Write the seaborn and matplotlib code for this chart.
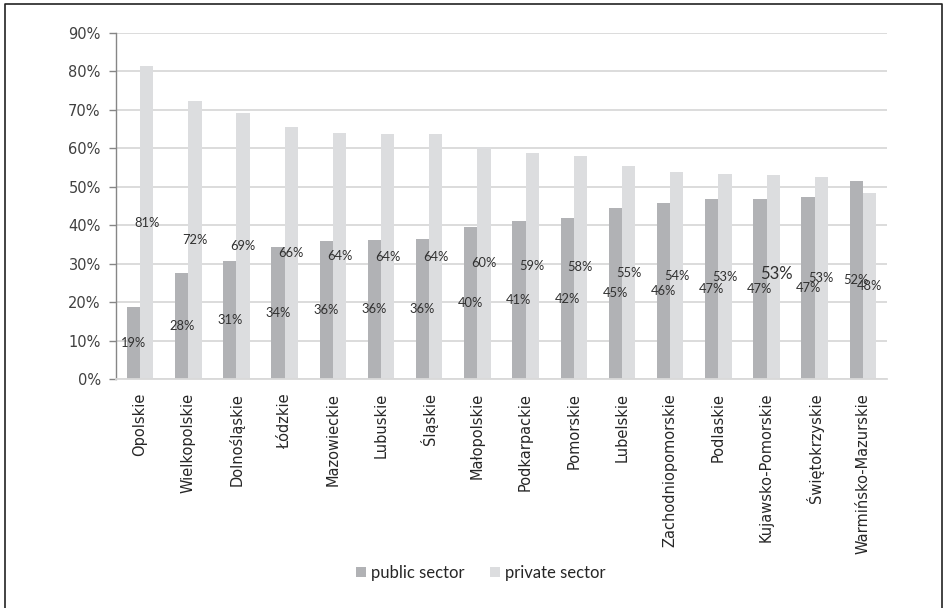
import matplotlib
matplotlib.use("Agg")
import matplotlib.pyplot as plt
import seaborn as sns
import pandas as pd
from matplotlib.lines import Line2D
from matplotlib.patches import Patch

regions = ["Opolskie", "Wielkopolskie", "Dolnośląskie", "Łódzkie", "Mazowieckie",
           "Lubuskie", "Śląskie", "Małopolskie", "Podkarpackie", "Pomorskie",
           "Lubelskie", "Zachodniopomorskie", "Podlaskie", "Kujawsko-Pomorskie",
           "Świętokrzyskie", "Warmińsko-Mazurskie"]
public = [18.6, 27.6, 30.6, 34.4, 35.9, 36.2, 36.3, 39.6, 41.1, 41.8,
          44.6, 45.9, 46.7, 46.9, 47.4, 51.6]
private = [81.3, 72.4, 69.3, 65.6, 64.1, 63.7, 63.6, 60.4, 58.8, 58.1,
           55.4, 53.8, 53.3, 53.0, 52.6, 48.4]
series = ["public sector", "private sector"]
colors = ["#b1b2b5", "#dcdddf"]
yticks = [0, 10, 20, 30, 40, 50, 60, 70, 80, 90]

df = pd.DataFrame({
    "region": regions * 2,
    "value": public + private,
    "sector": [series[0]] * len(regions) + [series[1]] * len(regions),
})

sns.set_theme(style="white")
plt.rcParams["font.family"] = ["DejaVu Sans"]

fig = plt.figure(figsize=(9.45, 6.08), dpi=100)
ax = fig.add_axes([116 / 945, 1 - 379 / 608, (887 - 116) / 945, (379 - 33) / 608])

sns.barplot(data=df, x="region", y="value", hue="sector", palette=colors,
            width=0.55, ax=ax, legend=False, saturation=1, edgecolor="none")

ax.set_ylim(0, 90)
ax.set_xlim(-0.5, len(regions) - 0.5)
ax.set_yticks(yticks)
ax.set_yticklabels([f"{t}%" for t in yticks], fontsize=10.5, color="#404040")
ax.set_xticks(range(len(regions)))
ax.set_xticklabels(regions, rotation=90, fontsize=10.5, color="#262626")
ax.set_xlabel("")
ax.set_ylabel("")

ax.yaxis.grid(True, color="#d9d9d9", linewidth=1.3)
ax.set_axisbelow(True)
for s in ["top", "right"]:
    ax.spines[s].set_visible(False)
ax.spines["bottom"].set_color("#d9d9d9")
ax.spines["bottom"].set_linewidth(1.3)
ax.spines["left"].set_color("#868686")
ax.spines["left"].set_linewidth(1.0)
ax.tick_params(axis="y", which="major", left=True, length=5, width=1.0,
               color="#868686", pad=6)
ax.tick_params(axis="x", which="major", bottom=False, pad=4)

for ci, cont in enumerate(ax.containers):
    texts = ax.bar_label(cont, labels=[f"{v:.0f}%" for v in cont.datavalues],
                         label_type="center", fontsize=9.3, color="#303030",
                         family=["Lato", "DejaVu Sans"])
    if ci == 1:
        texts[13].set_fontsize(12)
        texts[13].xyann = (2, 2)

handles = [Patch(facecolor=c, edgecolor="none") for c in colors]
fig.legend(handles, series, loc="center", bbox_to_anchor=(481 / 945, 1 - 573 / 608),
           ncol=2, frameon=False, handlelength=0.6, handleheight=0.6,
           handletextpad=0.3, columnspacing=1.5,
           prop={"family": ["Lato", "DejaVu Sans"], "size": 12},
           labelcolor="#262626")

# outer frame
fx = [5 / 945, 5 / 945, 942 / 945, 942 / 945]
fy = [0, 1 - 4 / 608, 1 - 4 / 608, 0]
fig.add_artist(Line2D(fx, fy, transform=fig.transFigure, color="#222222", linewidth=1.2))

fig.savefig("out.png", dpi=100, facecolor="white")
